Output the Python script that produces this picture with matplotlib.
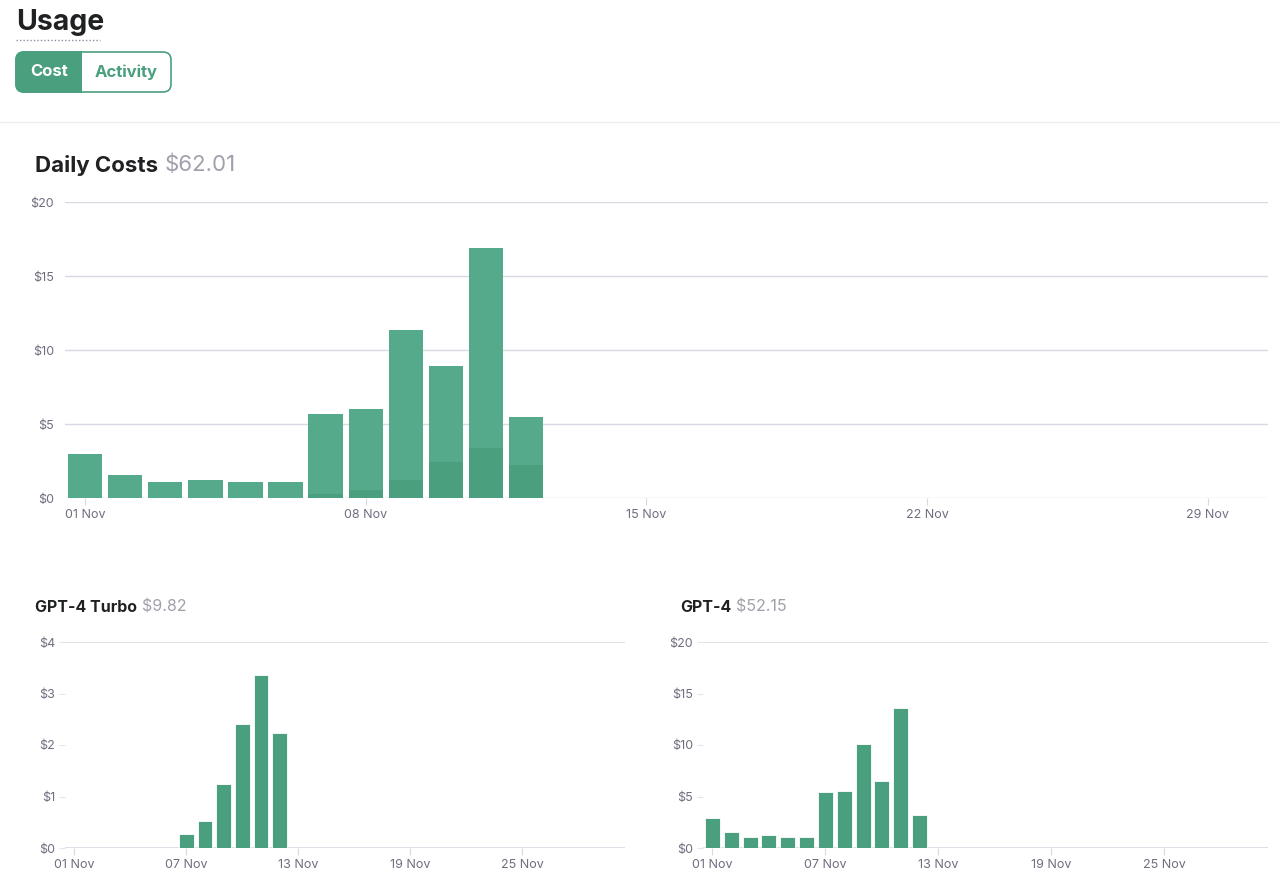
import matplotlib
matplotlib.use("Agg")
import matplotlib.pyplot as plt
from matplotlib.patches import FancyBboxPatch, Rectangle
from matplotlib.lines import Line2D

plt.rcParams['font.family'] = ['Inter', 'DejaVu Sans']

# ---------------- data ----------------
days = [f"{d:02d} Nov" for d in range(1, 31)]
gpt4_turbo = [0, 0, 0, 0, 0, 0, 0.27, 0.52, 1.24, 2.41, 3.35, 2.24] + [0] * 18
gpt4 = [2.95, 1.55, 1.05, 1.25, 1.05, 1.1, 5.4, 5.5, 10.1, 6.5, 13.55, 3.2] + [0] * 18
main_yticks = [0, 5, 10, 15, 20]
turbo_yticks = [0, 1, 2, 3, 4]
gpt4_yticks = [0, 5, 10, 15, 20]
main_xtick_idx = [0, 7, 14, 21, 28]
small_xtick_idx = [0, 6, 12, 18, 24]
title_total = "$62.01"
turbo_total = "$9.82"
gpt4_total = "$52.15"

GREEN = '#4a9f7e'
GREEN_LIGHT = '#54aa8a'
GRAY_TXT = '#6e6e80'
GRID = '#d9d9e3'
DARK = '#202123'

W, H = 1280, 893
fig = plt.figure(figsize=(W / 100, H / 100), dpi=100)
fig.patch.set_facecolor('white')
renderer = fig.canvas.get_renderer()

# overlay for header elements (pixel coords)
ov = fig.add_axes([0, 0, 1, 1])
ov.set_xlim(0, W)
ov.set_ylim(H, 0)
ov.axis('off')
ov.patch.set_alpha(0)

ov.text(16, 23, "Usage", fontsize=20.5, fontweight='bold', color=DARK, va='center', ha='left')
ov.add_line(Line2D([16, 100], [40, 40], color='#8e8ea0', lw=1, ls=(0, (1, 1.5))))

# toggle
outer = FancyBboxPatch((16, 52), 155, 40, boxstyle="round,pad=0,rounding_size=8",
                       facecolor='white', edgecolor=GREEN, lw=1.2)
ov.add_patch(outer)
fill = FancyBboxPatch((16, 52), 155, 40, boxstyle="round,pad=0,rounding_size=8",
                      facecolor=GREEN, edgecolor=GREEN, lw=1.2)
ov.add_patch(fill)
clip = Rectangle((10, 45), 72, 55, transform=ov.transData)
fill.set_clip_path(clip)
ov.text(49, 72, "Cost", fontsize=12, fontweight='bold', color='white', ha='center', va='center')
ov.text(126, 72, "Activity", fontsize=12, fontweight='bold', color=GREEN, ha='center', va='center')
ov.add_line(Line2D([0, W], [122, 122], color='#ececf1', lw=1))


def title_pair(xp, yp, bold, gray, size, gap):
    t = ov.text(xp, yp, bold, fontsize=size, fontweight='bold', color=DARK, ha='left', va='center')
    bb = t.get_window_extent(renderer=renderer)
    ov.text(bb.x1 + gap, yp, gray, fontsize=size, color='#a0a0ab', ha='left', va='center')


title_pair(35, 165, "Daily Costs", title_total, 16, 6)
title_pair(35, 607, "GPT-4 Turbo", turbo_total, 11.5, 5)
title_pair(680, 607, "GPT-4", gpt4_total, 11.5, 5)


def px_axes(left, right, top, bottom):
    return fig.add_axes([left / W, 1 - bottom / H, (right - left) / W, (bottom - top) / H])


x = list(range(len(days)))

# ---------------- main chart ----------------
ax = px_axes(65, 1268, 202, 498)
ax.bar(x, gpt4_turbo, width=0.86, color=GREEN, linewidth=0, zorder=3)
ax.bar(x, gpt4, bottom=gpt4_turbo, width=0.86, color=GREEN_LIGHT, linewidth=0, zorder=3)
ax.set_xlim(-0.5, 29.5)
ax.set_ylim(0, 20)
ax.set_yticks(main_yticks)
ax.set_yticklabels([f"${v}" for v in main_yticks])
ax.set_xticks(main_xtick_idx)
ax.set_xticklabels([days[i] for i in main_xtick_idx])
ax.grid(axis='y', color=GRID, lw=1, zorder=0)
ax.set_axisbelow(True)
for s in ax.spines.values():
    s.set_visible(False)
ax.tick_params(axis='y', length=0, pad=8, labelsize=9, labelcolor=GRAY_TXT)
ax.tick_params(axis='x', length=5, color=GRID, pad=3, labelsize=9, labelcolor=GRAY_TXT)
ax.patch.set_alpha(0)


def small_chart(left, right, vals, yticks):
    a = px_axes(left, right, 642, 848)
    a.bar(x, vals, width=0.8, color=GREEN, edgecolor='white', linewidth=0.6, zorder=3)
    a.set_xlim(-0.5, 29.5)
    a.set_ylim(0, yticks[-1])
    a.set_yticks(yticks)
    a.set_yticklabels([f"${v}" for v in yticks])
    a.set_xticks(small_xtick_idx)
    a.set_xticklabels([days[i] for i in small_xtick_idx])
    for s in a.spines.values():
        s.set_visible(False)
    a.axhline(0, color=GRID, lw=1.2, zorder=1)
    a.axhline(yticks[-1], color=GRID, lw=1.2, zorder=1)
    a.tick_params(axis='y', length=4, color='#e5e5ea', pad=3, labelsize=9, labelcolor=GRAY_TXT)
    a.tick_params(axis='x', length=5, color=GRID, pad=3, labelsize=9, labelcolor=GRAY_TXT)
    a.patch.set_alpha(0)
    return a


small_chart(65, 625, gpt4_turbo, turbo_yticks)
small_chart(703, 1268, gpt4, gpt4_yticks)

fig.savefig("out.png", dpi=100, facecolor='white')
